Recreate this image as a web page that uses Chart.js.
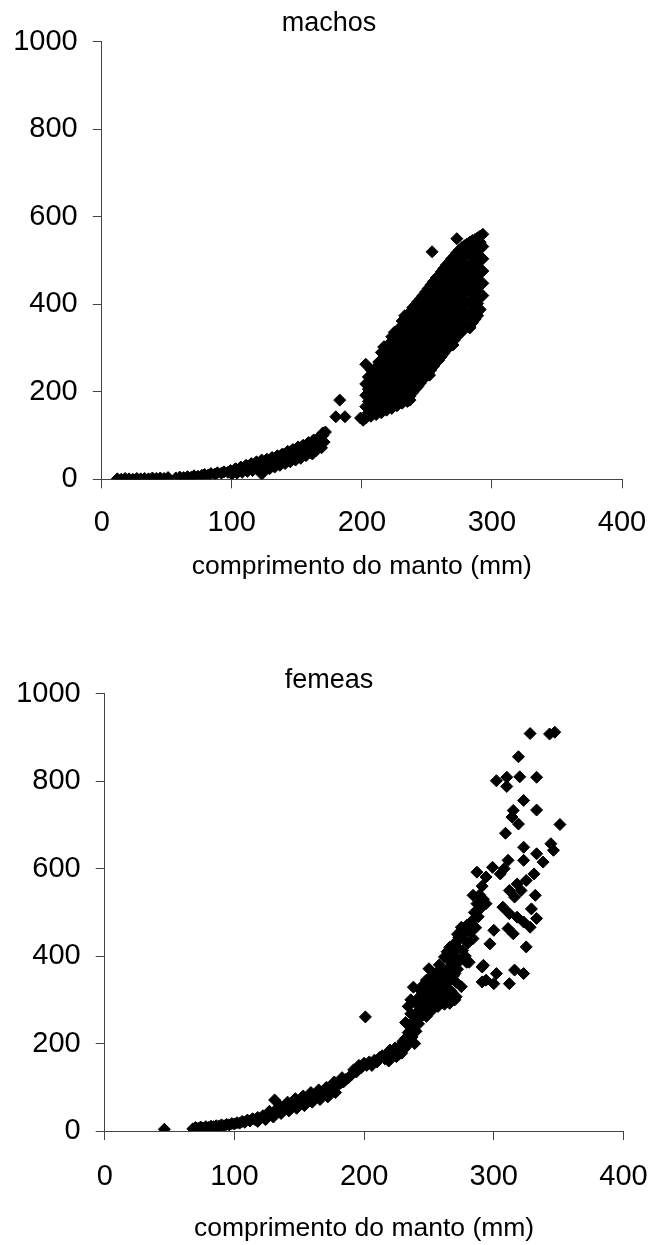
<!DOCTYPE html>
<html>
<head>
<meta charset="utf-8">
<script src="https://cdn.jsdelivr.net/npm/chart.js@4/dist/chart.umd.min.js"></script>
<style>
html,body{margin:0;padding:0;background:#fff;}
#wrap{position:relative;width:654px;height:1245px;overflow:hidden;}
canvas{position:absolute;left:0;}
</style>
</head>
<body>
<div id="wrap">
<canvas id="c1" width="654" height="600" style="top:0px"></canvas>
<canvas id="c2" width="654" height="645" style="top:600px"></canvas>
</div>
<script>
// ---- data ----
const titulos = ['machos', 'femeas'];
const tituloEixoX = 'comprimento do manto (mm)';
const ticksX = [0, 100, 200, 300, 400];
const ticksY = [0, 200, 400, 600, 800, 1000];

// machos: comprimento do manto (mm), peso (g)
const machosPequenos = [
[12,1],[15,0],[18,2],[21,1],[24,0],[27,2],[30,1],[33,2],[36,1],[39,3],[42,2],[45,3],[48,2],[51,4],
[57,3],[60,5],[63,4],[66,6],[69,5],[71,8],[74,7],[77,9],[79,11],[82,10],[84,13],[87,12],[89,15],[92,14],
[94,17],[97,16],[99,20],[101,15],[102,22],[104,18],[106,25],[108,20],[110,28],[112,23],[114,31],[116,25],
[118,35],[120,27],[122,38],[123,12],[124,30],[126,42],[128,33],[130,46],[132,36],[134,50],[136,40],[138,55],
[140,44],[142,60],[144,48],[146,65],[148,52],[150,70],[152,56],[154,75],[156,60],[158,80],[160,66],[162,86],
[162,58],[164,72],[166,92],[168,78],[170,100],[171,85],[172,108],
[100,12],[104,14],[108,16],[112,18],[116,20],[120,22],[103,24],[107,28],[111,32],[115,36],[119,40],[123,44],
[125,20],[129,24],[133,28],[137,32],[141,36],[145,40],[149,44],[153,48],[157,54],[161,60],[165,66],[169,72],
[127,46],[131,50],[135,54],[139,58],[143,64],[147,68],[151,74],[155,78],[159,84],[163,90],[167,96],[170,106],
[180,143],[183,181],[187,143],[201,135],[199,140],[203,263]
];
const machosGrandes = [
[203,140],[203,166],[203,192],[203,218],
[205,152],[205,178],[205,206],[205,234],
[207,144],[207,170],[207,196],[207,224],[207,250],
[209,156],[209,184],[209,210],[209,240],
[211,148],[211,174],[211,200],[211,226],[211,256],
[213,160],[213,188],[213,214],[213,244],[213,268],
[215,152],[215,180],[215,206],[215,234],[215,262],[215,290],
[217,166],[217,192],[217,220],[217,246],[217,276],[217,302],
[219,158],[219,186],[219,212],[219,240],[219,266],[219,294],
[221,170],[221,198],[221,226],[221,252],[221,282],[221,310],
[223,162],[223,190],[223,218],[223,246],[223,274],[223,300],[223,326],
[225,176],[225,204],[225,230],[225,258],[225,286],[225,314],[225,336],
[227,168],[227,196],[227,222],[227,250],[227,278],[227,306],[227,332],
[229,180],[229,208],[229,236],[229,262],[229,290],[229,318],[229,346],
[231,174],[231,200],[231,228],[231,256],[231,284],[231,310],[231,338],[231,362],
[233,186],[233,212],[233,240],[233,268],[233,296],[233,324],[233,350],[233,374],
[235,178],[235,206],[235,232],[235,260],[235,288],[235,316],[235,342],[235,368],
[237,190],[237,218],[237,246],[237,272],[237,300],[237,328],[237,356],[237,382],
[239,198],[239,226],[239,252],[239,280],[239,308],[239,336],[239,362],[239,392],
[241,206],[241,232],[241,260],[241,288],[241,316],[241,342],[241,370],[241,398],
[243,212],[243,240],[243,268],[243,296],[243,322],[243,350],[243,378],[243,406],
[245,220],[245,248],[245,276],[245,302],[245,330],[245,358],[245,386],[245,412],
[247,228],[247,256],[247,282],[247,310],[247,338],[247,366],[247,392],[247,420],
[249,236],[249,262],[249,290],[249,318],[249,346],[249,372],[249,400],[249,428],
[251,242],[251,270],[251,298],[251,326],[251,352],[251,380],[251,408],[251,436],
[253,250],[253,278],[253,306],[253,332],[253,360],[253,388],[253,416],[253,444],
[255,258],[255,286],[255,312],[255,340],[255,368],[255,396],[255,424],[255,452],
[257,266],[257,292],[257,320],[257,348],[257,376],[257,402],[257,430],[257,460],
[259,272],[259,300],[259,328],[259,356],[259,382],[259,410],[259,438],[259,466],
[261,280],[261,308],[261,336],[261,362],[261,390],[261,418],[261,446],[261,474],
[263,288],[263,316],[263,342],[263,370],[263,398],[263,426],[263,452],[263,482],
[265,296],[265,322],[265,350],[265,378],[265,406],[265,432],[265,460],[265,490],
[267,302],[267,330],[267,358],[267,386],[267,412],[267,440],[267,468],[267,496],
[269,310],[269,338],[269,366],[269,392],[269,420],[269,448],[269,476],[269,504],
[271,318],[271,346],[271,372],[271,400],[271,428],[271,456],[271,484],[271,510],
[273,326],[273,352],[273,380],[273,408],[273,436],[273,462],[273,490],[273,518],
[275,332],[275,360],[275,388],[275,416],[275,442],[275,470],[275,498],[275,524],
[277,338],[277,366],[277,394],[277,420],[277,448],[277,476],[277,504],[277,530],
[279,344],[279,372],[279,400],[279,428],[279,456],[279,482],[279,510],[279,534],
[281,350],[281,378],[281,406],[281,434],[281,460],[281,488],[281,516],[281,538],
[283,346],[283,374],[283,402],[283,430],[283,458],[283,486],[283,514],[283,542],
[285,358],[285,386],[285,412],[285,440],[285,468],[285,496],[285,524],[285,546],
[287,366],[287,392],[287,420],[287,448],[287,476],[287,502],[287,530],[287,548],
[289,374],[289,402],[289,430],[289,458],[289,486],[289,512],[289,540],[289,552],
[291,388],[291,416],[291,444],[291,472],[291,500],[291,528],[291,556],
[293,420],[293,448],[293,476],[293,504],[293,532],
[254,520],[273,550],[293,560],[291,542],[217,303],[227,170],[237,181],[252,238],[270,307],[283,348]
];

// femeas: comprimento do manto (mm), peso (g)
const femeasPequenas = [
[46,4],
[68,5],[70,8],[72,6],[74,9],[76,7],[78,10],[80,8],[82,11],[84,10],[86,12],[88,11],[90,14],[92,12],[94,15],
[96,14],[98,17],[100,16],[102,19],[104,18],[106,22],[108,20],[110,25],[112,23],[114,28],[116,26],[118,31],
[120,29],[122,35],[124,33],[126,38],[128,40],[130,43],[131,71],[132,46],[134,48],[136,51],[138,54],[140,52],
[142,58],[144,60],[146,63],[148,62],[150,67],[152,70],[154,68],[156,73],[158,76],[160,78],[162,80],[164,83],
[166,82],[168,87],[170,90],[172,88],[174,93],[176,98],[178,102],[180,105],[182,110],[184,112],[186,118],
[188,122],[190,128],[192,140],[194,135],[196,150],[198,145],[200,155],[201,261],[202,150],[204,158],
[118,22],[124,26],[130,32],[136,40],[142,46],[148,52],[154,58],[160,66],[166,72],[172,78],[178,88],
[127,45],[135,58],[141,66],[147,74],[153,80],[159,88],[165,94],[171,100],[177,112],[183,122]
];
const femeasGrandes = [
[206,150],[208,162],[210,158],[212,168],[214,172],[216,165],[218,178],[219,160],[220,185],[222,175],[224,190],
[225,170],[226,182],[228,195],[229,178],[230,205],[231,188],[232,212],[233,195],[234,225],[235,205],[236,238],
[237,215],[238,250],[239,200],[240,262],[240,228],[242,245],[242,275],[243,258],[244,290],[245,268],[246,320],
[246,280],[247,300],[248,262],[249,310],[250,285],[250,330],[251,295],[252,275],[253,318],[254,300],[255,340],
[256,310],[257,285],[258,325],[259,300],[260,345],[261,315],[262,290],[262,360],[263,330],[264,394],[265,305],
[266,375],[266,345],[267,320],[268,385],[269,355],[270,300],[270,400],[271,340],[272,420],[272,370],[273,443],
[274,390],[275,466],[275,330],[276,413],[277,450],[278,400],[279,470],[280,430],[281,386],[282,455],[283,480],
[284,440],[285,500],[286,465],[287,520],[288,490],[289,540],[290,510],[291,560],[292,530],
[250,371],[252,355],[254,340],[256,362],[258,380],[260,365],[262,398],[248,345],[246,335],[244,320],[242,305],
[240,292],[238,329],[236,300],[234,285],[264,410],[266,420],[268,405],[270,430],[272,450],[274,440],[276,460],
[270,360],[245,329],[251,314],[261,314],[271,307],[251,284],[266,292],[236,268],[232,248],[256,330],[259,350],
[284,539],[287,592],[294,581],[299,603],[305,588],[300,459],[297,428],[294,520],[287,501],[291,375],[279,386],
[291,341],[292,379],[294,345],[300,337],[302,360],[312,337],[316,368],[323,360],
[311,463],[315,451],[325,421],[329,508],[307,512],[312,497],[318,489],[333,486],[323,478],[328,466],
[312,550],[316,535],[318,565],[321,550],[325,573],[331,588],[332,539],[308,600],[311,619],[323,619],[323,649],
[333,634],[338,615],[344,657],[346,642],[309,681],[319,702],[314,718],[315,733],[323,756],[333,734],[351,701],
[302,801],[310,809],[310,788],[320,810],[333,809],[319,856],[328,909],[343,908],[347,912]
];

const FONT = "'Liberation Sans', Arial, Helvetica, sans-serif";

// centre the chart title on the whole figure, as in the reference
const centrarTitulo = {
  id: 'centrarTitulo',
  afterLayout(chart) {
    const t = chart.titleBlock;
    if (t) { t.left = 0; t.right = 658; }
  }
};

function grafico(id, titulo, pontos, g) {
  new Chart(document.getElementById(id), {
    type: 'scatter',
    data: {
      datasets: [{
        data: pontos.map(p => ({x: p[0], y: p[1]})),
        pointStyle: 'rectRot',
        pointRadius: 6,
        pointHoverRadius: 6,
        pointBackgroundColor: '#000',
        pointBorderColor: '#000',
        pointBorderWidth: 1
      }]
    },
    plugins: [centrarTitulo],
    options: {
      responsive: false,
      animation: false,
      devicePixelRatio: 1,
      events: [],
      layout: {padding: {left: 0, right: g.padRight, top: 0, bottom: 0}},
      plugins: {
        legend: {display: false},
        tooltip: {enabled: false},
        title: {
          display: true, text: titulo, color: '#000',
          font: {family: FONT, size: 27, weight: 'normal', lineHeight: 1},
          padding: {top: g.tTop, bottom: g.tBottom}
        }
      },
      scales: {
        x: {
          type: 'linear', min: 0, max: 400,
          afterBuildTicks: s => { s.ticks = ticksX.map(v => ({value: v})); },
          afterFit: s => { s.height = g.H - g.bottom; s.paddingLeft = 0; s.paddingRight = 0; },
          ticks: {color: '#000', font: {family: FONT, size: 29}, padding: g.xPad, maxRotation: 0, autoSkip: false,
                  callback: v => String(v)},
          grid: {drawOnChartArea: false, drawTicks: true, tickLength: 9, color: '#444', lineWidth: 1},
          border: {display: true, color: '#444', width: 1},
          title: {display: true, text: tituloEixoX, color: '#000',
                  font: {family: FONT, size: 26.5, lineHeight: 1}, padding: {top: 0, bottom: g.xTitleBottom}}
        },
        y: {
          type: 'linear', min: 0, max: 1000,
          afterBuildTicks: s => { s.ticks = ticksY.map(v => ({value: v})); },
          afterFit: s => { s.width = g.left; },
          ticks: {color: '#000', font: {family: FONT, size: 29}, padding: 15, autoSkip: false,
                  callback: v => String(v)},
          grid: {drawOnChartArea: false, drawTicks: true, tickLength: 9, color: '#444', lineWidth: 1},
          border: {display: true, color: '#444', width: 1}
        }
      }
    }
  });
}

grafico('c1', titulos[0], machosPequenos.concat(machosGrandes),
  {H: 600, left: 101.7, padRight: 32, bottom: 479.3, tTop: 9.75, tBottom: 5.05, xPad: 17.6, xTitleBottom: 19.75});
grafico('c2', titulos[1], femeasPequenas.concat(femeasGrandes),
  {H: 645, left: 104.7, padRight: 30.5, bottom: 531, tTop: 66.75, tBottom: 0, xPad: 19.6, xTitleBottom: 2.75});
</script>
</body>
</html>
